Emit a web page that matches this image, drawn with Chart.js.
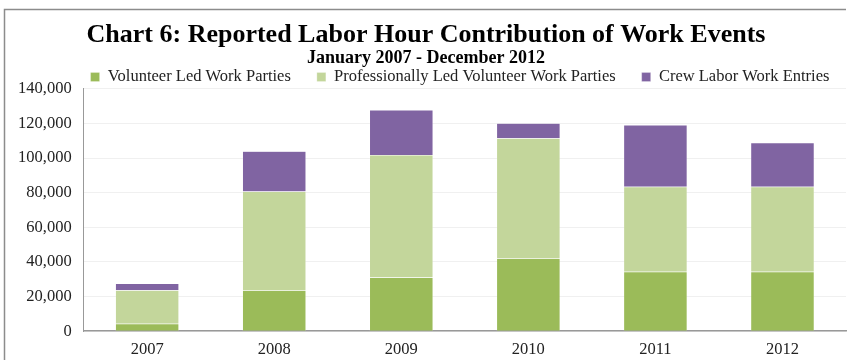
<!DOCTYPE html>
<html>
<head>
<meta charset="utf-8">
<script src="https://cdn.jsdelivr.net/npm/chart.js@4"></script>
<style>
  html, body { margin: 0; padding: 0; background: #fff; overflow: hidden; }
  canvas { display: block; }
</style>
</head>
<body>
<canvas id="myChart" width="849" height="360"></canvas>
<script>
// Labor hours by year, stacked by source
var years = ["2007", "2008", "2009", "2010", "2011", "2012"];
var volunteerLed = [4300, 23600, 31000, 42200, 34300, 34300];
var proLed = [19300, 57100, 70700, 69200, 49200, 49200];
var crewLabor = [3900, 23300, 26100, 8700, 35600, 25300];
var yTicks = [0, 20000, 40000, 60000, 80000, 100000, 120000, 140000];

var serif = "'Liberation Serif', 'DejaVu Serif', serif";

var LEGEND_HEIGHT = 20;
var LEGEND_SHIFT = 26;
var LEGEND_OFFSET_X = 34;

// thin grey frame round the whole chart; also keeps the legend row tight
// under the subtitle (centred over the plot) while still using wide gaps
// between legend items
var framePlugin = {
  id: "frame",
  afterInit: function (chart) {
    var lg = chart.legend;
    var fit = lg.fit;
    lg.fit = function () {
      fit.call(this);
      this.height = LEGEND_HEIGHT;
    };
  },
  afterLayout: function (chart) {
    // move only the top edge so the legend clip box still holds its row
    chart.legend.top -= LEGEND_SHIFT;
    chart.legend.left += LEGEND_OFFSET_X;
    chart.legend.right += LEGEND_OFFSET_X;
  },
  afterDraw: function (chart) {
    var c = chart.ctx;
    c.save();
    c.strokeStyle = "#8c8c8c";
    c.lineWidth = 1.5;
    c.beginPath();
    c.moveTo(4.5, 400);
    c.lineTo(4.5, 9.5);
    c.lineTo(846, 9.5);
    c.stroke();
    c.restore();
  }
};

var ctx = document.getElementById("myChart").getContext("2d");
var myChart = new Chart(ctx, {
  type: "bar",
  data: {
    labels: years,
    datasets: [
      {
        label: "Volunteer Led Work Parties",
        data: volunteerLed,
        backgroundColor: "#9bbb59",
        borderColor: "rgba(255,255,255,0.5)",
        borderWidth: 0.5
      },
      {
        label: "Professionally Led Volunteer Work Parties",
        data: proLed,
        backgroundColor: "#c3d69b",
        borderColor: "rgba(255,255,255,0.5)",
        borderWidth: 0.5
      },
      {
        label: "Crew Labor Work Entries",
        data: crewLabor,
        backgroundColor: "#8064a2",
        borderColor: "rgba(255,255,255,0.5)",
        borderWidth: 0.5
      }
    ]
  },
  options: {
    responsive: false,
    animation: false,
    layout: { padding: { left: 6, right: 3, top: 20, bottom: -9 } },
    categoryPercentage: 1.0,
    barPercentage: 0.5,
    plugins: {
      title: {
        display: true,
        text: "Chart 6: Reported Labor Hour Contribution of Work Events",
        color: "#000",
        font: { family: serif, size: 26, weight: "bold" },
        padding: { top: 0, bottom: 0 }
      },
      subtitle: {
        display: true,
        text: "January 2007 - December 2012",
        color: "#000",
        font: { family: serif, size: 18, weight: "bold" },
        padding: { top: -4, bottom: 0 }
      },
      legend: {
        position: "top",
        labels: {
          color: "#222",
          font: { family: serif, size: 16.5 },
          boxWidth: 9,
          boxHeight: 9,
          padding: 26
        }
      },
      tooltip: { enabled: false }
    },
    scales: {
      x: {
        stacked: true,
        grid: { display: false, drawTicks: false },
        border: { color: "#999", width: 1.5 },
        ticks: {
          color: "#222",
          font: { family: serif, size: 16.5 },
          padding: 9
        }
      },
      y: {
        stacked: true,
        min: 0,
        max: 140000,
        afterBuildTicks: function (axis) {
          axis.ticks = yTicks.map(function (v) { return { value: v }; });
        },
        grid: { color: "#f0f0f0", drawTicks: false },
        border: { color: "#999", width: 1 },
        ticks: {
          color: "#222",
          font: { family: serif, size: 16.5 },
          padding: 12,
          callback: function (v) { return v.toLocaleString("en-US"); }
        }
      }
    }
  },
  plugins: [framePlugin]
});
</script>
</body>
</html>
